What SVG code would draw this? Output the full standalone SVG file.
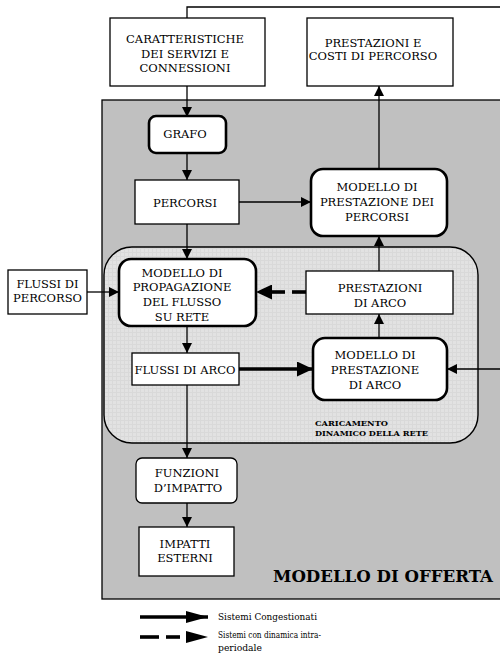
<svg xmlns="http://www.w3.org/2000/svg" width="500" height="654" viewBox="0 0 500 654">
  <style>
    text { font-family: "DejaVu Serif", "Liberation Serif", "Times New Roman", serif; fill: #000000; }
    .box { fill: #ffffff; stroke: #000000; stroke-width: 1.3; }
    .rbox { fill: #ffffff; stroke: #000000; stroke-width: 2.6; }
    .lbl { font-size: 11.5px; text-anchor: middle; }
    .small { font-size: 8px; font-weight: bold; }
    .legend { font-size: 9px; }
    .title { font-size: 17px; font-weight: bold; }
    .wire { fill: none; stroke: #000000; stroke-width: 1.3; }
    .thick { fill: none; stroke: #000000; stroke-width: 3.6; }
  </style>
  <defs>
    <marker id="head" markerUnits="userSpaceOnUse" markerWidth="10" markerHeight="10" refX="10" refY="5" orient="auto">
      <path d="M0,0 L10,5 L0,10 z" fill="#000000"/>
    </marker>
    <marker id="headBig" markerUnits="userSpaceOnUse" markerWidth="16" markerHeight="15" refX="16" refY="7.5" orient="auto">
      <path d="M0,0 L16,7.5 L0,15 z" fill="#000000"/>
    </marker>
    <marker id="headLegend" markerUnits="userSpaceOnUse" markerWidth="22" markerHeight="12" refX="22" refY="6" orient="auto">
      <path d="M0,0 L22,6 L0,12 z" fill="#000000"/>
    </marker>
    <pattern id="grain" width="4" height="4" patternUnits="userSpaceOnUse">
      <rect width="4" height="4" fill="#e2e2e2"/>
      <rect width="4" height="1" fill="#d9d9d9"/>
      <rect width="1" height="4" fill="#d9d9d9"/>
    </pattern>
  </defs>

  <rect width="500" height="654" fill="#ffffff"/>

  <!-- supply model panel -->
  <g id="panel-offerta">
    <rect x="102" y="100" width="410" height="499" fill="#c0c0c0" stroke="#000000" stroke-width="1.3"/>
    <text class="title" x="273" y="582" textLength="220" lengthAdjust="spacingAndGlyphs">MODELLO DI OFFERTA</text>
  </g>

  <!-- dynamic network loading region -->
  <g id="region-caricamento">
    <rect x="104" y="247" width="374" height="196" rx="28" ry="28" fill="url(#grain)" stroke="#000000" stroke-width="1.4"/>
    <text class="small" x="315" y="426" textLength="73" lengthAdjust="spacingAndGlyphs">CARICAMENTO</text>
    <text class="small" x="315" y="436" textLength="113" lengthAdjust="spacingAndGlyphs">DINAMICO DELLA RETE</text>
  </g>

  <!-- connectors -->
  <g id="connectors">
    <!-- feedback from the right edge into the top box -->
    <polyline class="wire" points="500,7 187,7 187,18"/>
    <line class="wire" x1="187" y1="86" x2="187" y2="117" marker-end="url(#head)"/>
    <line class="wire" x1="187" y1="153" x2="187" y2="180" marker-end="url(#head)"/>
    <line class="wire" x1="239" y1="202" x2="311" y2="202" marker-end="url(#head)"/>
    <line class="wire" x1="379" y1="169" x2="379" y2="86" marker-end="url(#head)"/>
    <line class="wire" x1="187" y1="224" x2="187" y2="259" marker-end="url(#head)"/>
    <line class="wire" x1="87" y1="292" x2="119" y2="292" marker-end="url(#head)"/>
    <line class="wire" x1="379" y1="271" x2="379" y2="236" marker-end="url(#head)"/>
    <line class="wire" x1="379" y1="338" x2="379" y2="314" marker-end="url(#head)"/>
    <line class="wire" x1="187" y1="326" x2="187" y2="353" marker-end="url(#head)"/>
    <line class="wire" x1="500" y1="369" x2="447" y2="369" marker-end="url(#head)"/>
    <line class="wire" x1="187" y1="385" x2="187" y2="458" marker-end="url(#head)"/>
    <line class="wire" x1="187" y1="503" x2="187" y2="527" marker-end="url(#head)"/>
    <!-- congested link flows -->
    <line class="thick" x1="239" y1="369" x2="313" y2="369" marker-end="url(#headBig)"/>
    <!-- within-period dynamics -->
    <line class="thick" x1="306" y1="292" x2="292" y2="292"/>
    <line class="thick" x1="285" y1="292" x2="256" y2="292" stroke-dasharray="13 100" marker-end="url(#headBig)"/>
  </g>

  <g id="n-caratteristiche">
    <rect class="box" x="110" y="18" width="155" height="68"/>
    <text class="lbl" x="185" y="43">CARATTERISTICHE</text>
    <text class="lbl" x="185" y="57.5">DEI SERVIZI E</text>
    <text class="lbl" x="185" y="72">CONNESSIONI</text>
  </g>

  <g id="n-prestazioni-costi">
    <rect class="box" x="307" y="18" width="146" height="68"/>
    <text class="lbl" x="373" y="47">PRESTAZIONI E</text>
    <text class="lbl" x="373" y="60">COSTI DI PERCORSO</text>
  </g>

  <g id="n-grafo">
    <rect class="rbox" x="149" y="116" width="77" height="37" rx="7" ry="7"/>
    <text class="lbl" x="185" y="137.5">GRAFO</text>
  </g>

  <g id="n-percorsi">
    <rect class="box" x="135" y="180" width="104" height="44"/>
    <text class="lbl" x="185" y="206.5">PERCORSI</text>
  </g>

  <g id="n-modello-percorsi">
    <rect class="rbox" x="311" y="169" width="136" height="67" rx="12" ry="12"/>
    <text class="lbl" x="377" y="190.5">MODELLO DI</text>
    <text class="lbl" x="377" y="205.5">PRESTAZIONE DEI</text>
    <text class="lbl" x="377" y="220.5">PERCORSI</text>
  </g>

  <g id="n-flussi-percorso">
    <rect class="box" x="8" y="270" width="79" height="44"/>
    <text class="lbl" x="47.5" y="287.5">FLUSSI DI</text>
    <text class="lbl" x="47.5" y="301.5">PERCORSO</text>
  </g>

  <g id="n-propagazione">
    <rect class="rbox" x="119" y="259" width="137" height="67" rx="12" ry="12"/>
    <text class="lbl" x="182" y="276.5">MODELLO DI</text>
    <text class="lbl" x="182" y="291">PROPAGAZIONE</text>
    <text class="lbl" x="182" y="305.5">DEL FLUSSO</text>
    <text class="lbl" x="182" y="321">SU RETE</text>
  </g>

  <g id="n-prestazioni-arco">
    <rect class="box" x="306" y="271" width="147" height="43"/>
    <text class="lbl" x="380" y="291.5">PRESTAZIONI</text>
    <text class="lbl" x="380" y="306.5">DI ARCO</text>
  </g>

  <g id="n-flussi-arco">
    <rect class="box" x="132" y="353" width="107" height="32"/>
    <text class="lbl" x="185" y="373.5">FLUSSI DI ARCO</text>
  </g>

  <g id="n-modello-arco">
    <rect class="rbox" x="313" y="338" width="134" height="62" rx="12" ry="12"/>
    <text class="lbl" x="375" y="358.5">MODELLO DI</text>
    <text class="lbl" x="375" y="373.5">PRESTAZIONE</text>
    <text class="lbl" x="375" y="388.5">DI ARCO</text>
  </g>

  <g id="n-funzioni-impatto">
    <rect class="box" x="136" y="458" width="101" height="45" rx="6" ry="6" stroke-width="1.6"/>
    <text class="lbl" x="187" y="476.5">FUNZIONI</text>
    <text class="lbl" x="188" y="491.5">D’IMPATTO</text>
  </g>

  <g id="n-impatti-esterni">
    <rect class="box" x="139" y="527" width="95" height="49"/>
    <text class="lbl" x="185" y="547.5">IMPATTI</text>
    <text class="lbl" x="185" y="561.5">ESTERNI</text>
  </g>

  <!-- legend -->
  <g id="legend">
    <line class="thick" x1="140" y1="617" x2="208" y2="617" marker-end="url(#headLegend)"/>
    <text class="legend" x="218" y="620" textLength="99" lengthAdjust="spacingAndGlyphs">Sistemi Congestionati</text>
    <line class="thick" x1="140" y1="637" x2="159" y2="637"/>
    <line class="thick" x1="166" y1="637" x2="208" y2="637" stroke-dasharray="14 100" marker-end="url(#headLegend)"/>
    <text class="legend" x="218" y="638" textLength="103" lengthAdjust="spacingAndGlyphs">Sistemi con dinamica intra-</text>
    <text class="legend" x="218" y="651" textLength="44" lengthAdjust="spacingAndGlyphs">periodale</text>
  </g>
</svg>
